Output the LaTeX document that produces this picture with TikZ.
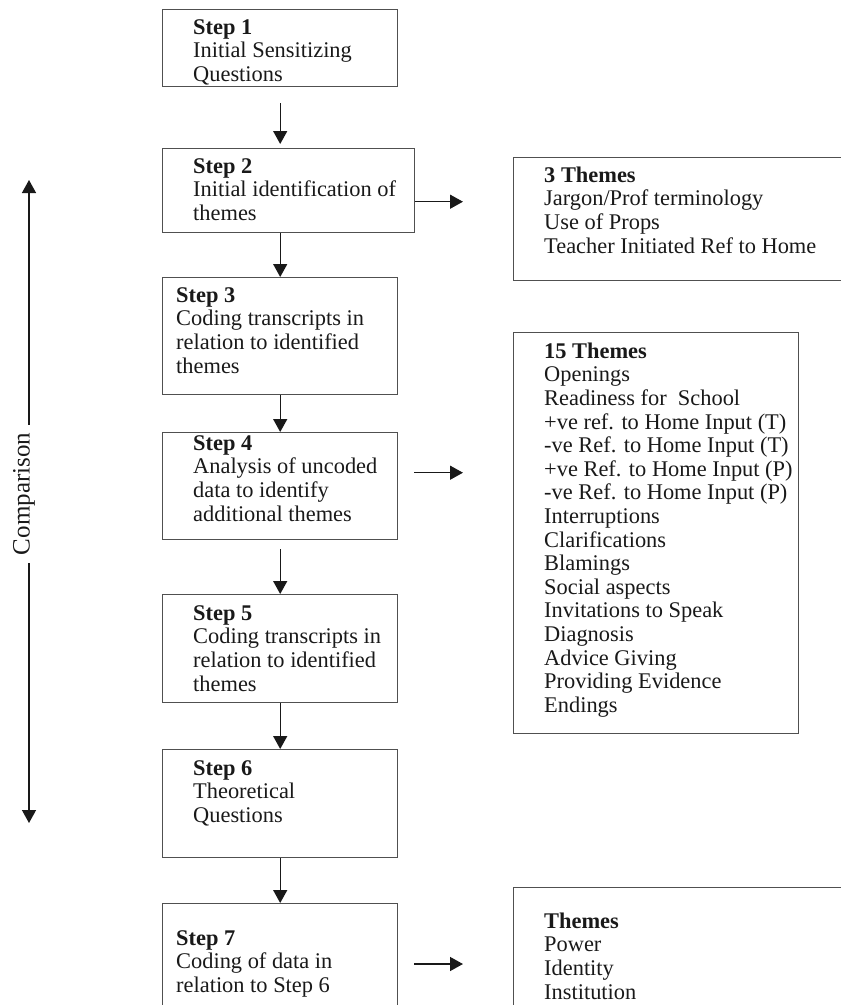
\documentclass[tikz,border=0pt]{standalone}
\usepackage{fontspec}
\setmainfont{Liberation Serif}
\usetikzlibrary{arrows.meta}
\definecolor{boxgray}{RGB}{80,80,80}
\definecolor{ink}{RGB}{25,25,25}
\newcommand\fstrut{\rule{0pt}{16pt}}
\begin{document}
\begin{tikzpicture}[x=1pt,y=-1pt,
  stepbox/.style={draw=boxgray, line width=1.4pt, rectangle, inner sep=0pt, anchor=north west},
  txt/.style={anchor=north west, inner sep=0pt, align=left, text=ink, font=\fontsize{22.4}{23.6}\selectfont},
  arr/.style={draw=ink, line width=1.4pt, -{Triangle[length=13pt,width=14pt]}},
]
\useasboundingbox (0,0) rectangle (841,1005);
\clip (0,0) rectangle (841,1005);

% step boxes
\node[stepbox, minimum width=235pt, minimum height=77pt]  (s1) at (162,9)   {};
\node[stepbox, minimum width=252pt, minimum height=84pt]  (s2) at (162,148) {};
\node[stepbox, minimum width=235pt, minimum height=117pt] (s3) at (162,277) {};
\node[stepbox, minimum width=235pt, minimum height=107pt] (s4) at (162,432) {};
\node[stepbox, minimum width=235pt, minimum height=108pt] (s5) at (162,594) {};
\node[stepbox, minimum width=235pt, minimum height=108pt] (s6) at (162,749) {};
\node[stepbox, minimum width=235pt, minimum height=120pt] (s7) at (162,903) {};

% theme boxes
\node[stepbox, minimum width=340pt, minimum height=123pt] (b1) at (513,157) {};
\node[stepbox, minimum width=285pt, minimum height=401pt] (b2) at (513,332) {};
\node[stepbox, minimum width=340pt, minimum height=130pt] (b3) at (513,887) {};

% texts
\node[txt] (t1) at (193,18)  {\fstrut\textbf{Step 1}\\Initial Sensitizing\\Questions};
\node[txt] (t2) at (193,157) {\fstrut\textbf{Step 2}\\Initial identification of\\themes};
\node[txt] (t3) at (176,286) {\fstrut\textbf{Step 3}\\Coding transcripts in\\relation to identified\\themes};
\node[txt] (t4) at (193,434) {\fstrut\textbf{Step 4}\\Analysis of uncoded\\data to identify\\additional themes};
\node[txt] (t5) at (193,604) {\fstrut\textbf{Step 5}\\Coding transcripts in\\relation to identified\\themes};
\node[txt] (t6) at (193,759) {\fstrut\textbf{Step 6}\\Theoretical\\Questions};
\node[txt] (t7) at (176,929) {\fstrut\textbf{Step 7}\\Coding of data in\\relation to Step 6};

\node[txt] (tb1) at (544,166) {\fstrut\textbf{3 Themes}\\Jargon/Prof terminology\\Use of Props\\Teacher Initiated Ref to Home};
\node[txt] (tb2) at (544,342) {\fstrut\textbf{15 Themes}\\Openings\\Readiness for~ School\\+ve ref. to Home Input (T)\\-ve Ref. to Home Input (T)\\+ve Ref. to Home Input (P)\\-ve Ref. to Home Input (P)\\Interruptions\\Clarifications\\Blamings\\Social aspects\\Invitations to Speak\\Diagnosis\\Advice Giving\\Providing Evidence\\Endings};
\node[txt] (tb3) at (544,912) {\fstrut\textbf{Themes}\\Power\\Identity\\Institution};

% vertical flow arrows
\draw[arr, shorten <=16pt, shorten >=4pt] (s1.south) -- (s1.south |- s2.north);
\draw[arr] (s2.south -| s3.north) -- (s3.north);
\draw[arr] (s3.south) -- (s4.north);
\draw[arr, shorten <=9pt] (s4.south) -- (s5.north);
\draw[arr] (s5.south) -- (s6.north);
\draw[arr] (s6.south) -- (s7.north);

% arrows to theme boxes
\draw[arr, shorten >=50pt] ([yshift=-11pt]s2.east) -- ([yshift=-11pt]s2.east -| b1.west);
\draw[arr, shorten <=16pt, shorten >=50pt] ([yshift=13.5pt]s4.east) -- ([yshift=13.5pt]s4.east -| b2.west);
\draw[arr, shorten <=16pt, shorten >=50pt] ([yshift=-61pt]s7.north east) -- ([yshift=-61pt]s7.north east -| b3.west);

% comparison arrow
\coordinate (cmpT) at (29,180);
\coordinate (cmpB) at (29,823);
\node[rotate=90, inner xsep=8pt, inner ysep=0pt, text=ink, font=\fontsize{25}{30}\selectfont] (cmp) at (24,494) {Comparison};
\draw[arr] (cmp.east -| cmpT) -- (cmpT);
\draw[arr] (cmp.west -| cmpB) -- (cmpB);
\end{tikzpicture}
\end{document}
